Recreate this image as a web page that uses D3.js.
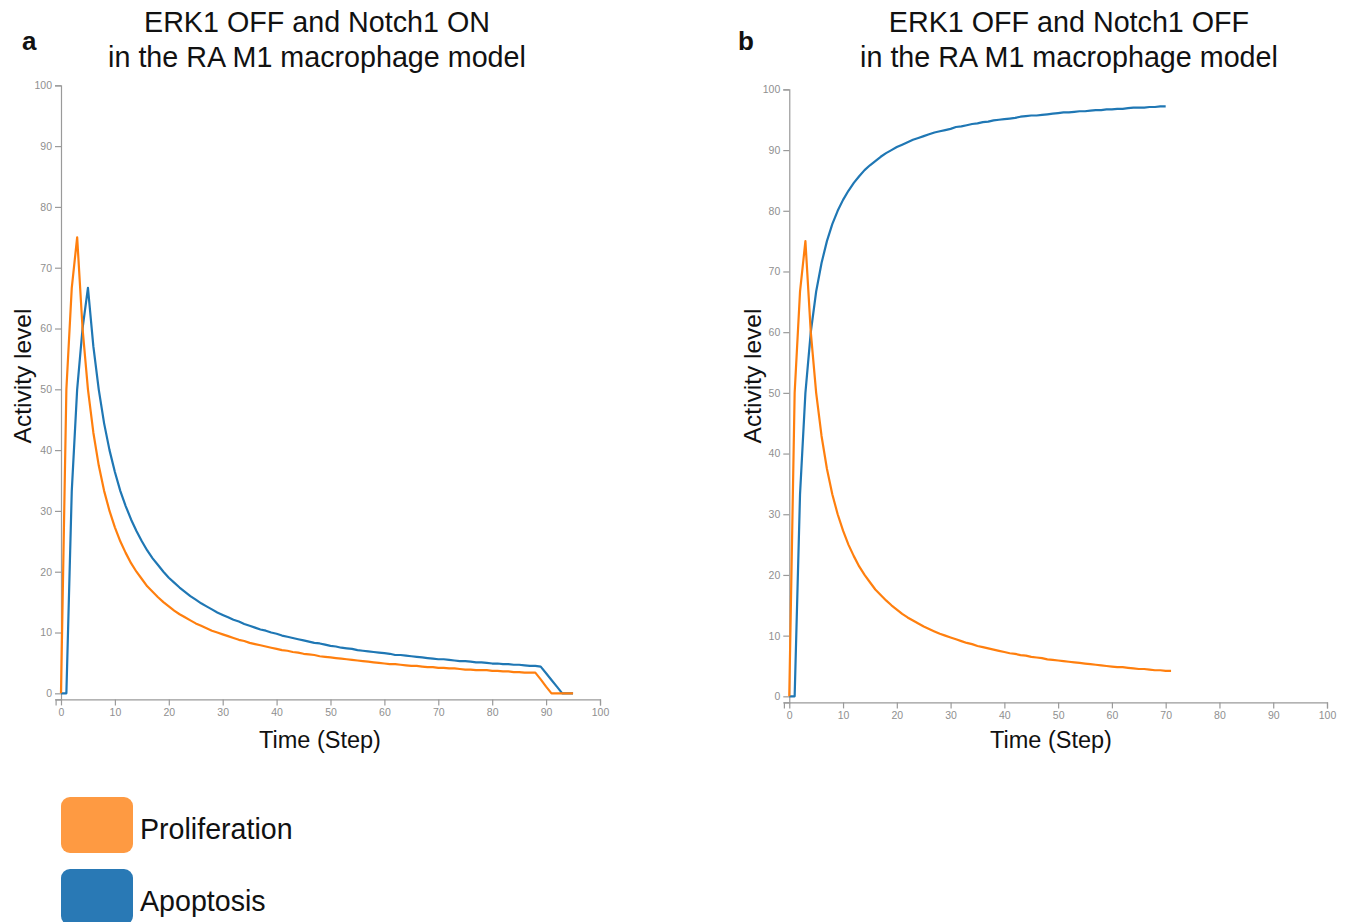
<!DOCTYPE html>
<html>
<head>
<meta charset="utf-8">
<script src="https://cdn.jsdelivr.net/npm/d3@7"></script>
<style>
  html, body { margin: 0; padding: 0; background: #fff; }
  svg { display: block; }
  .tick text { font-family: "Liberation Sans", Arial, sans-serif; }
</style>
</head>
<body>
<svg id="chart" width="1346" height="922"></svg>
<script>
// ---------------- DATA ----------------
const seriesNames = ["Proliferation", "Apoptosis"];
const panelLetters = ["a", "b"];
const titleLines1 = ["ERK1 OFF and Notch1 ON", "ERK1 OFF and Notch1 OFF"];
const titleLine2 = "in the RA M1 macrophage model";
const xLabel = "Time (Step)";
const yLabel = "Activity level";
const xTickValues = [0, 10, 20, 30, 40, 50, 60, 70, 80, 90, 100];
const yTickValues = [0, 10, 20, 30, 40, 50, 60, 70, 80, 90, 100];

// Panel a, one value per time step (0..95)
const proliferationA = [
  0, 50, 66.7, 75, 60, 50, 42.9, 37.5, 33.3, 30,
  27.3, 25, 23.1, 21.4, 20, 18.8, 17.6, 16.7, 15.8, 15,
  14.3, 13.6, 13.0, 12.5, 12, 11.5, 11.1, 10.7, 10.3, 10,
  9.7, 9.4, 9.1, 8.8, 8.6, 8.3, 8.1, 7.9, 7.7, 7.5,
  7.3, 7.1, 7.0, 6.8, 6.7, 6.5, 6.4, 6.3, 6.1, 6.0,
  5.9, 5.8, 5.7, 5.6, 5.5, 5.4, 5.3, 5.2, 5.1, 5.0,
  4.9, 4.8, 4.8, 4.7, 4.6, 4.5, 4.5, 4.4, 4.3, 4.3,
  4.2, 4.2, 4.1, 4.1, 4.0, 3.9, 3.9, 3.8, 3.8, 3.8,
  3.7, 3.7, 3.6, 3.6, 3.5, 3.5, 3.4, 3.4, 3.4, 2.3,
  1.1, 0, 0, 0, 0, 0
];
const apoptosisA = [
  0, 0, 33.3, 50, 60, 66.7, 57.1, 50, 44.4, 40,
  36.4, 33.3, 30.8, 28.6, 26.7, 25, 23.5, 22.2, 21.1, 20,
  19.0, 18.2, 17.4, 16.7, 16, 15.4, 14.8, 14.3, 13.8, 13.3,
  12.9, 12.5, 12.1, 11.8, 11.4, 11.1, 10.8, 10.5, 10.3, 10,
  9.8, 9.5, 9.3, 9.1, 8.9, 8.7, 8.5, 8.3, 8.2, 8.0,
  7.8, 7.7, 7.5, 7.4, 7.3, 7.1, 7.0, 6.9, 6.8, 6.7,
  6.6, 6.5, 6.3, 6.3, 6.2, 6.1, 6.0, 5.9, 5.8, 5.7,
  5.6, 5.6, 5.5, 5.4, 5.3, 5.3, 5.2, 5.1, 5.1, 5.0,
  4.9, 4.9, 4.8, 4.8, 4.7, 4.7, 4.6, 4.5, 4.5, 4.4,
  3.3, 2.2, 1.1, 0, 0, 0
];

// Panel b, one value per time step
const proliferationB = [
  0, 50, 66.7, 75, 60, 50, 42.9, 37.5, 33.3, 30,
  27.3, 25, 23.1, 21.4, 20, 18.8, 17.6, 16.7, 15.8, 15,
  14.3, 13.6, 13.0, 12.5, 12, 11.5, 11.1, 10.7, 10.3, 10,
  9.7, 9.4, 9.1, 8.8, 8.6, 8.3, 8.1, 7.9, 7.7, 7.5,
  7.3, 7.1, 7.0, 6.8, 6.7, 6.5, 6.4, 6.3, 6.1, 6.0,
  5.9, 5.8, 5.7, 5.6, 5.5, 5.4, 5.3, 5.2, 5.1, 5.0,
  4.9, 4.8, 4.8, 4.7, 4.6, 4.5, 4.5, 4.4, 4.3, 4.3,
  4.2, 4.2
];
const apoptosisB = [
  0, 0, 33.3, 50, 60, 66.7, 71.4, 75, 77.8, 80,
  81.8, 83.3, 84.6, 85.7, 86.7, 87.5, 88.2, 88.9, 89.5, 90,
  90.5, 90.9, 91.3, 91.7, 92, 92.3, 92.6, 92.9, 93.1, 93.3,
  93.5, 93.8, 93.9, 94.1, 94.3, 94.4, 94.6, 94.7, 94.9, 95,
  95.1, 95.2, 95.3, 95.5, 95.6, 95.7, 95.7, 95.8, 95.9, 96,
  96.1, 96.2, 96.2, 96.3, 96.4, 96.4, 96.5, 96.6, 96.6, 96.7,
  96.7, 96.8, 96.8, 96.9, 97, 97, 97, 97.1, 97.1, 97.2,
  97.2
];

// ---------------- STYLE / LAYOUT ----------------
const FONT = '"Liberation Sans", Arial, Helvetica, sans-serif';
const lineColors = { Proliferation: "#ff7f0e", Apoptosis: "#1f77b4" };
const legendColors = { Proliferation: "#fe9a42", Apoptosis: "#2979b5" };
const axisColor = "#9a9a9a";

const panels = [
  { letter: panelLetters[0], t1: titleLines1[0], prolif: proliferationA, apop: apoptosisA,
    x0: 55.6, x1: 600, y0: 699.4, y1: 85.3, titleX: 317, letterX: 22, yLabX: 31, xLabX: 320 },
  { letter: panelLetters[1], t1: titleLines1[1], prolif: proliferationB, apop: apoptosisB,
    x0: 783.9, x1: 1327, y0: 702.4, y1: 89.4, titleX: 1069, letterX: 738, yLabX: 761, xLabX: 1051 }
];

const svg = d3.select("#chart");

panels.forEach(p => {
  const x = d3.scaleLinear().domain([-1, 100]).range([p.x0, p.x1]);
  const y = d3.scaleLinear().domain([-1, 100]).range([p.y0, p.y1]);

  const g = svg.append("g");

  const xAxis = g.append("g")
    .attr("transform", `translate(0,${p.y0})`)
    .call(d3.axisBottom(x).tickValues(xTickValues).tickSize(6).tickSizeOuter(6));
  const yAxis = g.append("g")
    .attr("transform", `translate(${x(0)},0)`)
    .call(d3.axisLeft(y).tickValues(yTickValues).tickSize(6).tickSizeOuter(6));
  [xAxis, yAxis].forEach(a => {
    a.selectAll("path.domain").attr("stroke", axisColor).attr("stroke-width", 1.2);
    a.selectAll(".tick line").attr("stroke", axisColor).attr("stroke-width", 1.2);
    a.selectAll(".tick text").attr("fill", "#8f8f8f").style("font-size", "10.5px").style("font-family", FONT);
  });

  const line = d3.line().x((d, i) => x(i)).y(d => y(d));
  g.append("path").datum(p.apop)
    .attr("fill", "none").attr("stroke", lineColors.Apoptosis)
    .attr("stroke-width", 2.2).attr("stroke-linejoin", "round")
    .attr("d", line);
  g.append("path").datum(p.prolif)
    .attr("fill", "none").attr("stroke", lineColors.Proliferation)
    .attr("stroke-width", 2.2).attr("stroke-linejoin", "round")
    .attr("d", line);

  g.append("text").attr("x", p.titleX).attr("y", 32)
    .attr("text-anchor", "middle").style("font-family", FONT).style("font-size", "28.7px")
    .attr("fill", "#111").text(p.t1);
  g.append("text").attr("x", p.titleX).attr("y", 67)
    .attr("text-anchor", "middle").style("font-family", FONT).style("font-size", "28.7px")
    .attr("fill", "#111").text(titleLine2);
  g.append("text").attr("x", p.letterX).attr("y", 50)
    .style("font-family", FONT).style("font-size", "26px").style("font-weight", "bold")
    .attr("fill", "#111").text(p.letter);

  g.append("text").attr("x", p.xLabX).attr("y", 748)
    .attr("text-anchor", "middle").style("font-family", FONT).style("font-size", "23.5px")
    .attr("fill", "#111").text(xLabel);
  g.append("text")
    .attr("transform", `translate(${p.yLabX},376) rotate(-90)`)
    .attr("text-anchor", "middle").style("font-family", FONT).style("font-size", "24.5px")
    .attr("fill", "#111").text(yLabel);
});

const legend = svg.append("g");
seriesNames.forEach((name, i) => {
  const top = 797 + i * 72;
  legend.append("rect").attr("x", 61).attr("y", top).attr("width", 72).attr("height", 56)
    .attr("rx", 9).attr("ry", 9).attr("fill", legendColors[name]);
  legend.append("text").attr("x", 140).attr("y", top + 42)
    .style("font-family", FONT).style("font-size", "28.6px").attr("fill", "#111").text(name);
});
</script>
</body>
</html>
